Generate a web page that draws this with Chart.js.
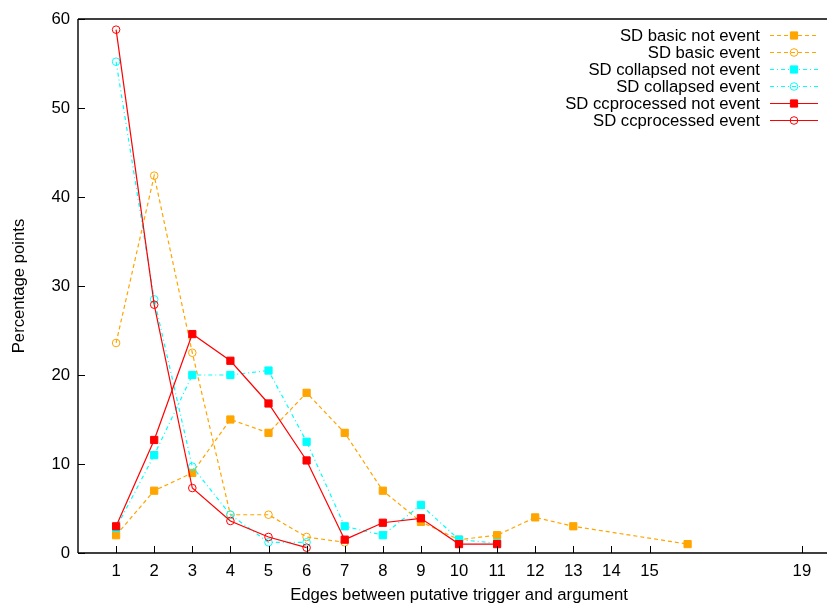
<!DOCTYPE html>
<html>
<head>
<meta charset="utf-8">
<script src="https://cdn.jsdelivr.net/npm/chart.js@4/dist/chart.umd.min.js"></script>
<style>
html,body{margin:0;padding:0;background:#fff;overflow:hidden;width:827px;height:606px;}
canvas{display:block;}
</style>
</head>
<body>
<canvas id="c" width="850" height="606"></canvas>
<script>
// ---- data ----
const xTickValues = [1,2,3,4,5,6,7,8,9,10,11,12,13,14,15,19];
const yTickValues = [0,10,20,30,40,50,60];

const basicNotEventX = [1,2,3,4,5,6,7,8,9,10,11,12,13,16];
const basicNotEvent  = [2,7,9,15,13.5,18,13.5,7,3.5,1.5,2,4,3,1];

const basicEventX = [1,2,3,4,5,6,7];
const basicEvent  = [23.6,42.4,22.5,4.3,4.3,1.8,1.2];

const collapsedNotEventX = [1,2,3,4,5,6,7,8,9,10,11];
const collapsedNotEvent  = [2.8,11,20,20,20.5,12.5,3,2,5.4,1.5,1.1];

const collapsedEventX = [1,2,3,4,5,6];
const collapsedEvent  = [55.2,28.5,9.7,4.3,1.2,1.2];

const ccNotEventX = [1,2,3,4,5,6,7,8,9,10,11];
const ccNotEvent  = [3,12.7,24.6,21.6,16.8,10.4,1.5,3.4,3.9,1,1];

const ccEventX = [1,2,3,4,5,6];
const ccEvent  = [58.8,27.9,7.3,3.6,1.8,0.6];

const seriesLabels = [
  'SD basic not event','SD basic event',
  'SD collapsed not event','SD collapsed event',
  'SD ccprocessed not event','SD ccprocessed event'
];

const ORANGE = '#FFA500', CYAN = '#00FFFF', RED = '#FF0000';
const FONT = "'Liberation Sans', Arial, Helvetica, sans-serif";
const FSIZE = 16.7;

function pts(xs, ys){ return xs.map((x,i)=>({x:x,y:ys[i]})); }

function mk(label, xs, ys, color, dash, style, order){
  const filled = style === 'rect';
  return {
    label: label,
    data: pts(xs, ys),
    borderColor: color,
    borderWidth: 1.2,
    borderDash: dash,
    backgroundColor: color,
    pointStyle: style,
    pointRadius: filled ? 5.1 : 3.8,
    pointHoverRadius: filled ? 5.1 : 3.8,
    pointBackgroundColor: filled ? color : 'rgba(0,0,0,0)',
    pointBorderColor: color,
    pointBorderWidth: 1,
    tension: 0,
    fill: false,
    order: order
  };
}

const DASH_ORANGE = [4,3];
const DASH_CYAN = [4,3,1,3];

const datasets = [
  mk(seriesLabels[0], basicNotEventX, basicNotEvent, ORANGE, DASH_ORANGE, 'rect', 6),
  mk(seriesLabels[1], basicEventX, basicEvent, ORANGE, DASH_ORANGE, 'circle', 5),
  mk(seriesLabels[2], collapsedNotEventX, collapsedNotEvent, CYAN, DASH_CYAN, 'rect', 4),
  mk(seriesLabels[3], collapsedEventX, collapsedEvent, CYAN, DASH_CYAN, 'circle', 3),
  mk(seriesLabels[4], ccNotEventX, ccNotEvent, RED, [], 'rect', 2),
  mk(seriesLabels[5], ccEventX, ccEvent, RED, [], 'circle', 1)
];

const framePlugin = {
  id: 'frame',
  afterDatasetsDraw(chart){
    const ctx = chart.ctx;
    const a = chart.chartArea;
    const xs = chart.scales.x, ys = chart.scales.y;
    ctx.save();
    ctx.strokeStyle = '#000';
    ctx.lineWidth = 1.4;
    ctx.setLineDash([]);
    ctx.beginPath();
    ctx.moveTo(a.left, a.top); ctx.lineTo(a.left, a.bottom);
    ctx.moveTo(a.left, a.bottom); ctx.lineTo(a.right, a.bottom);
    ctx.moveTo(a.left, a.top); ctx.lineTo(a.right, a.top);
    ctx.stroke();
    // inward ticks
    ctx.lineWidth = 1;
    ctx.beginPath();
    xTickValues.forEach(v=>{
      const px = Math.round(xs.getPixelForValue(v)) + 0.5;
      ctx.moveTo(px, a.bottom); ctx.lineTo(px, a.bottom - 7);
    });
    yTickValues.forEach(v=>{
      const py = Math.round(ys.getPixelForValue(v)) + 0.5;
      ctx.moveTo(a.left, py); ctx.lineTo(a.left + 7, py);
    });
    ctx.stroke();

    // legend (gnuplot style: text right-aligned, sample on the right)
    const textRight = 760, lineL = 770, lineR = 818, mx = 794;
    const y0 = 35, dy = 16.9;
    ctx.font = FSIZE + 'px ' + FONT;
    ctx.textAlign = 'right';
    ctx.textBaseline = 'middle';
    chart.data.datasets.forEach((ds, i)=>{
      const y = Math.round(y0 + i*dy) + 0.5;
      ctx.fillStyle = '#000';
      ctx.fillText(ds.label, textRight, y + 1);
      ctx.strokeStyle = ds.borderColor;
      ctx.lineWidth = 1.2;
      ctx.setLineDash(ds.borderDash || []);
      ctx.beginPath();
      ctx.moveTo(lineL, y); ctx.lineTo(lineR, y);
      ctx.stroke();
      ctx.setLineDash([]);
      ctx.lineWidth = 1;
      ctx.strokeStyle = ds.pointBorderColor;
      ctx.beginPath();
      if (ds.pointStyle === 'rect') {
        const s = ds.pointRadius * Math.SQRT1_2;
        ctx.fillStyle = ds.pointBackgroundColor;
        ctx.rect(mx - s, y - s, 2*s, 2*s);
        ctx.fill(); ctx.stroke();
      } else {
        ctx.arc(mx, y, ds.pointRadius, 0, Math.PI*2);
        ctx.stroke();
      }
    });
    ctx.restore();
  }
};

new Chart(document.getElementById('c'), {
  type: 'line',
  data: { datasets: datasets },
  plugins: [framePlugin],
  options: {
    responsive: false,
    animation: false,
    devicePixelRatio: 1,
    layout: { padding: { left: 0, top: 19, right: 10, bottom: 0 } },
    plugins: { legend: { display: false }, tooltip: { enabled: false } },
    scales: {
      x: {
        type: 'linear',
        min: 0, max: 20,
        afterBuildTicks(scale){ scale.ticks = xTickValues.map(v=>({value:v})); },
        afterFit(scale){ scale.height = 53; },
        grid: { display: false, drawTicks: false },
        border: { display: false },
        ticks: {
          font: { family: FONT, size: FSIZE },
          color: '#000',
          padding: 8,
          maxRotation: 0,
          autoSkip: false
        },
        title: {
          display: true,
          text: 'Edges between putative trigger and argument',
          font: { family: FONT, size: FSIZE },
          color: '#000',
          padding: { top: 0, bottom: 1 }
        }
      },
      y: {
        type: 'linear',
        min: 0, max: 60,
        afterBuildTicks(scale){ scale.ticks = yTickValues.map(v=>({value:v})); },
        afterFit(scale){ scale.width = 78; },
        grid: { display: false, drawTicks: false },
        border: { display: false },
        ticks: {
          font: { family: FONT, size: FSIZE },
          color: '#000',
          padding: 8
        },
        title: {
          display: true,
          text: 'Percentage points',
          font: { family: FONT, size: FSIZE },
          color: '#000',
          padding: { top: 9, bottom: 0 }
        }
      }
    }
  }
});
</script>
</body>
</html>
